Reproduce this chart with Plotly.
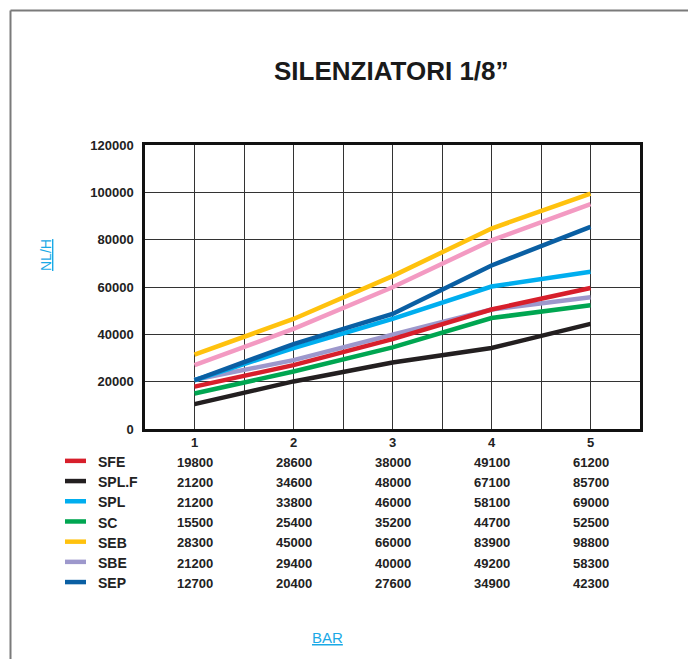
import plotly.graph_objects as go

# ---- data ----
bar = [1, 2, 3, 4, 5]

# lines (NL/H)
line_yellow = [31400, 46500, 64600, 84700, 99500]
line_pink = [27000, 42300, 59900, 79700, 95000]
line_darkblue = [20600, 35900, 48600, 69100, 85400]
line_lightblue = [20600, 34200, 46500, 60200, 66400]
line_lavender = [20800, 29100, 39900, 50500, 55700]
line_red = [17900, 27000, 38000, 50500, 59600]
line_green = [15000, 24300, 34500, 46900, 52300]
line_black = [10500, 20100, 28100, 34200, 44400]

# table under the chart
table_names = ["SFE", "SPL.F", "SPL", "SC", "SEB", "SBE", "SEP"]
table_sfe = [19800, 28600, 38000, 49100, 61200]
table_splf = [21200, 34600, 48000, 67100, 85700]
table_spl = [21200, 33800, 46000, 58100, 69000]
table_sc = [15500, 25400, 35200, 44700, 52500]
table_seb = [28300, 45000, 66000, 83900, 98800]
table_sbe = [21200, 29400, 40000, 49200, 58300]
table_sep = [12700, 20400, 27600, 34900, 42300]
table_rows = [table_sfe, table_splf, table_spl, table_sc, table_seb, table_sbe, table_sep]

y_ticks = [0, 20000, 40000, 60000, 80000, 100000, 120000]

# ---- styles ----
C_RED = "#d71f2b"
C_BLACK = "#231f20"
C_LBLUE = "#00aeef"
C_GREEN = "#00a651"
C_YELLOW = "#ffc20e"
C_LAV = "#9d98cc"
C_DBLUE = "#0a5fa3"
C_PINK = "#f39ac2"
table_colors = [C_RED, C_BLACK, C_LBLUE, C_GREEN, C_YELLOW, C_LAV, C_DBLUE]
LINK = "#1aa9e6"
FONT = "Liberation Sans, Arial, sans-serif"

W, H = 688, 659
ML, MR, MT, MB = 145, 48, 145, 230
PW, PH = W - ML - MR, H - MT - MB


def px_x(p):
    return (p - ML) / PW


def px_y(p):
    return (H - MB - p) / PH


fig = go.Figure()

series = [
    (line_black, C_BLACK),
    (line_green, C_GREEN),
    (line_lavender, C_LAV),
    (line_red, C_RED),
    (line_lightblue, C_LBLUE),
    (line_darkblue, C_DBLUE),
    (line_pink, C_PINK),
    (line_yellow, C_YELLOW),
]
for vals, col in series:
    fig.add_trace(go.Scatter(x=bar, y=vals, mode="lines",
                             line=dict(color=col, width=4.5),
                             showlegend=False, hoverinfo="skip"))

annotations = []
shapes = []

# table rows
row0, row_step = 462, 20.2
for i, (name, vals, col) in enumerate(zip(table_names, table_rows, table_colors)):
    yp = px_y(row0 + row_step * i)
    shapes.append(dict(type="line", xref="paper", yref="paper",
                       x0=px_x(65), x1=px_x(86), y0=yp + 0.004, y1=yp + 0.004,
                       line=dict(color=col, width=4.5)))
    annotations.append(dict(text="<b>%s</b>" % name, xref="paper", yref="paper",
                            x=px_x(96), y=yp, xanchor="left", yanchor="middle",
                            showarrow=False, font=dict(size=14, color="#222", family=FONT)))
    for xv, v in zip(bar, vals):
        annotations.append(dict(text="<b>%d</b>" % v, xref="x", yref="paper",
                                x=xv, y=yp, xanchor="center", yanchor="middle",
                                showarrow=False, font=dict(size=13, color="#222", family=FONT)))

# axis titles
annotations.append(dict(text="<u>NL/H</u>", xref="paper", yref="paper",
                        x=px_x(46), y=px_y(255), textangle=-90,
                        xanchor="center", yanchor="middle", showarrow=False,
                        font=dict(size=14, color=LINK, family=FONT)))
annotations.append(dict(text="<u>BAR</u>", xref="paper", yref="paper",
                        x=px_x(327), y=px_y(637),
                        xanchor="center", yanchor="middle", showarrow=False,
                        font=dict(size=15, color=LINK, family=FONT)))
annotations.append(dict(text="<b>SILENZIATORI 1/8\u201d</b>", xref="paper", yref="paper",
                        x=px_x(391), y=px_y(71),
                        xanchor="center", yanchor="middle", showarrow=False,
                        font=dict(size=26, color="#1a1a1a", family=FONT)))

# outer frame (left and top edges)
shapes.append(dict(type="line", xref="paper", yref="paper",
                   x0=px_x(10.5), x1=px_x(10.5), y0=px_y(10.5), y1=px_y(H + 2),
                   line=dict(color="#7a7a7a", width=2)))
shapes.append(dict(type="line", xref="paper", yref="paper",
                   x0=px_x(10.5), x1=px_x(W + 2), y0=px_y(10.5), y1=px_y(10.5),
                   line=dict(color="#7a7a7a", width=2)))

fig.update_layout(
    width=W, height=H,
    margin=dict(l=ML, r=MR, t=MT, b=MB, pad=0),
    paper_bgcolor="white", plot_bgcolor="white",
    font=dict(family=FONT, color="#222"),
    annotations=annotations, shapes=shapes,
    xaxis=dict(range=[0.5, 5.5], tickvals=bar, ticktext=["<b>%d</b>" % b for b in bar],
               tickfont=dict(size=13, family=FONT, color="#222"),
               showgrid=True, gridcolor="#333", gridwidth=1.3,
               minor=dict(tick0=0.5, dtick=0.5, showgrid=True, gridcolor="#333", gridwidth=1.3),
               showline=True, linecolor="#111", linewidth=2.5, mirror=True,
               zeroline=False, ticks="", fixedrange=True),
    yaxis=dict(range=[0, 120000], tickvals=y_ticks,
               ticktext=["<b>%d</b>" % v for v in y_ticks],
               tickfont=dict(size=13, family=FONT, color="#222"),
               showgrid=True, gridcolor="#333", gridwidth=1.3,
               showline=True, linecolor="#111", linewidth=2.5, mirror=True,
               zeroline=False, ticks="outside", ticklen=6, tickcolor="rgba(0,0,0,0)",
               fixedrange=True),
)

fig.write_html("out.html", config={"displayModeBar": False},
               post_script="document.body.style.margin='0';document.body.style.overflow='hidden';")
